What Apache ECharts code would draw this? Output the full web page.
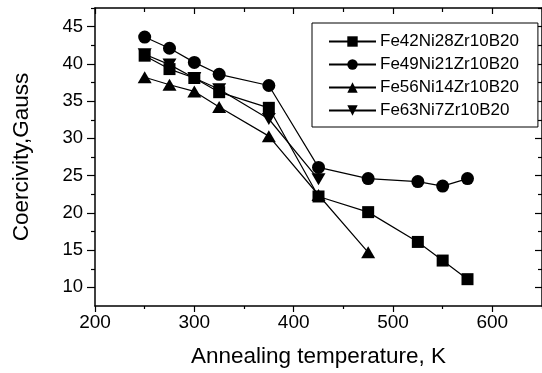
<!DOCTYPE html>
<html>
<head>
<meta charset="utf-8">
<script src="https://cdn.jsdelivr.net/npm/echarts@6/dist/echarts.min.js"></script>
<style>
html,body{margin:0;padding:0;background:#fff;}
#chart{width:542px;height:373px;}
</style>
</head>
<body>
<div id="chart"></div>
<script>
// ---- data ----
var seriesNames = ['Fe42Ni28Zr10B20', 'Fe49Ni21Zr10B20', 'Fe56Ni14Zr10B20', 'Fe63Ni7Zr10B20'];
var tempsFe42 = [250, 275, 300, 325, 375, 425, 475, 525, 550, 575];
var fe42 = [41.1, 39.3, 38.1, 36.2, 34.1, 22.2, 20.1, 16.1, 13.6, 11.1];
var tempsFe49 = [250, 275, 300, 325, 375, 425, 475, 525, 550, 575];
var fe49 = [43.6, 42.1, 40.2, 38.6, 37.1, 26.1, 24.6, 24.2, 23.6, 24.6];
var tempsFe56 = [250, 275, 300, 325, 375, 425, 475];
var fe56 = [38.2, 37.2, 36.3, 34.2, 30.3, 22.4, 14.7];
var tempsFe63 = [250, 275, 300, 325, 375, 425];
var fe63 = [41.3, 39.9, 38.1, 36.6, 32.6, 24.5];
var xMajorTicks = [200, 300, 400, 500, 600];
var xMinorTicks = [250, 350, 450, 550, 650];
var yMajorTicks = [10, 15, 20, 25, 30, 35, 40, 45];
var yMinorTicks = [12.5, 17.5, 22.5, 27.5, 32.5, 37.5, 42.5, 47.5];

function pairs(xs, ys) { return xs.map(function (x, i) { return [x, ys[i]]; }); }

var FONT = 'Liberation Sans, Arial, sans-serif';
var X_MIN = 200, X_MAX = 650, Y_MIN = 7.5, Y_MAX = 47.5;
var lineCol = '#000';

function xAx(pos, ticks, len, inside, labels, main) {
  return {
    type: 'value', position: pos, min: X_MIN, max: X_MAX, gridIndex: 0,
    axisLine: { show: main, onZero: false, lineStyle: { color: lineCol, width: 1.5 } },
    axisTick: { show: true, customValues: ticks, length: len, inside: inside, lineStyle: { color: lineCol, width: 1.2 } },
    axisLabel: labels ? { show: true, customValues: ticks, margin: 7, fontSize: 19, color: '#000', fontFamily: FONT } : { show: false },
    splitLine: { show: false },
    name: (labels ? 'Annealing temperature, K' : ''),
    nameLocation: 'middle', nameGap: 39,
    nameTextStyle: { fontSize: 22.5, color: '#000', fontFamily: FONT }
  };
}
function yAx(pos, ticks, len, inside, labels, main) {
  return {
    type: 'value', position: pos, min: Y_MIN, max: Y_MAX, gridIndex: 0,
    axisLine: { show: main, onZero: false, lineStyle: { color: lineCol, width: 1.5 } },
    axisTick: { show: true, customValues: ticks, length: len, inside: inside, lineStyle: { color: lineCol, width: 1.2 } },
    axisLabel: labels ? { show: true, customValues: ticks, margin: 12, fontSize: 18.5, color: '#000', fontFamily: FONT } : { show: false },
    splitLine: { show: false },
    name: (labels ? 'Coercivity,Gauss' : ''),
    nameLocation: 'middle', nameGap: 62,
    nameTextStyle: { fontSize: 22.5, color: '#000', fontFamily: FONT }
  };
}

var downTri = 'path://M0,0L10,0L5,9Z';

var chart = echarts.init(document.getElementById('chart'), null, { renderer: 'canvas' });
chart.setOption({
  animation: false,
  backgroundColor: '#fff',
  grid: { left: 95, top: 8, width: 449, bottom: 65, containLabel: false },
  xAxis: [
    xAx('bottom', xMajorTicks, 6, false, true, true),
    xAx('bottom', xMinorTicks, 3, false, false, false),
    xAx('top', xMajorTicks, 6, true, false, true),
    xAx('top', xMinorTicks, 4, true, false, false)
  ],
  yAxis: [
    yAx('left', yMajorTicks, 8, false, true, true),
    yAx('left', yMinorTicks, 4, false, false, false),
    yAx('right', yMajorTicks, 7, true, false, true),
    yAx('right', yMinorTicks, 4, true, false, false)
  ],
  legend: {
    orient: 'vertical', left: 312, top: 23,
    padding: [10, 19, 8, 16],
    itemWidth: 47, itemHeight: 13, itemGap: 6,
    borderColor: '#000', borderWidth: 1, backgroundColor: '#fff',
    textStyle: { fontSize: 17, color: '#000', fontFamily: FONT, padding: [0, 0, 0, -1] },
    data: seriesNames
  },
  series: [
    { name: seriesNames[0], type: 'line', data: pairs(tempsFe42, fe42), symbol: 'rect', symbolSize: 12,
      lineStyle: { color: '#000', width: 1.2 }, itemStyle: { color: '#000' } },
    { name: seriesNames[1], type: 'line', data: pairs(tempsFe49, fe49), symbol: 'circle', symbolSize: 13,
      lineStyle: { color: '#000', width: 1.2 }, itemStyle: { color: '#000' } },
    { name: seriesNames[2], type: 'line', data: pairs(tempsFe56, fe56), symbol: 'triangle', symbolSize: [14, 12],
      lineStyle: { color: '#000', width: 1.2 }, itemStyle: { color: '#000' } },
    { name: seriesNames[3], type: 'line', data: pairs(tempsFe63, fe63), symbol: downTri, symbolSize: [14, 12],
      lineStyle: { color: '#000', width: 1.2 }, itemStyle: { color: '#000' } }
  ]
});
</script>
</body>
</html>
